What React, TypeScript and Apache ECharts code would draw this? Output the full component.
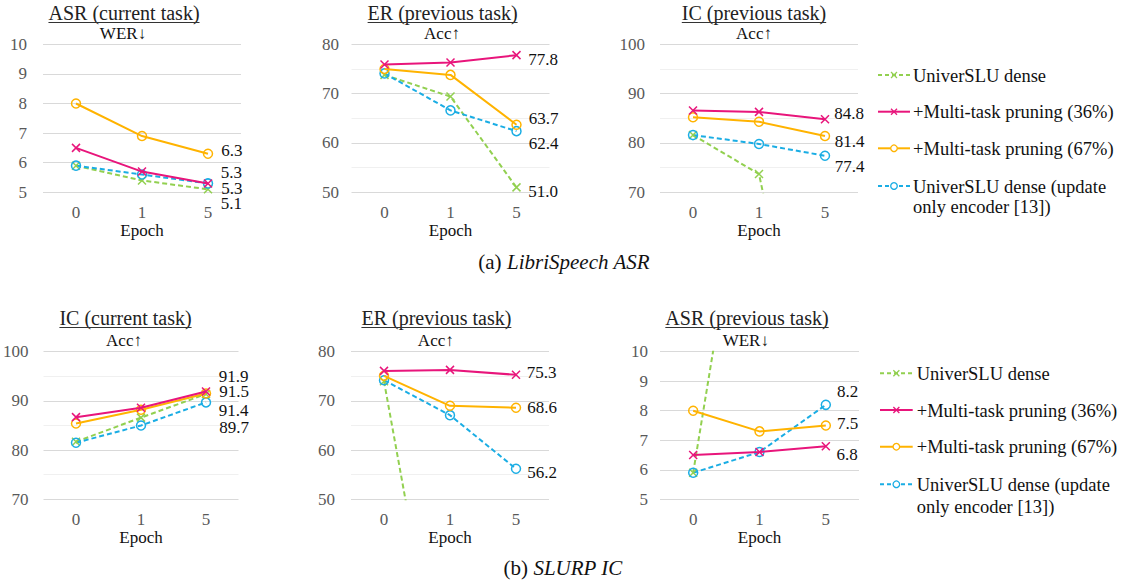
import React, { useEffect, useRef } from 'react';
import * as echarts from 'echarts';

// ---------------- DATA ----------------
const categories = ['0', '1', '5'];
const seriesNames = [
  'UniverSLU dense',
  '+Multi-task pruning (36%)',
  '+Multi-task pruning (67%)',
  'UniverSLU dense (update only encoder [13])',
];

// (a) LibriSpeech ASR
const aAsrDense = [5.9, 5.4, 5.1];
const aAsrMtp36 = [6.5, 5.7, 5.3];
const aAsrMtp67 = [8.0, 6.9, 6.3];
const aAsrEnc = [5.9, 5.6, 5.3];

const aErDense = [73.8, 69.4, 51.0];
const aErMtp36 = [75.9, 76.3, 77.8];
const aErMtp67 = [75.0, 73.8, 63.7];
const aErEnc = [74.1, 66.6, 62.4];

const aIcDense = [81.6, 73.7, 11.0];
const aIcMtp36 = [86.6, 86.3, 84.8];
const aIcMtp67 = [85.2, 84.3, 81.4];
const aIcEnc = [81.6, 79.8, 77.4];

// (b) SLURP IC
const bIcDense = [81.7, 86.6, 91.4];
const bIcMtp36 = [86.7, 88.6, 91.9];
const bIcMtp67 = [85.4, 88.2, 91.5];
const bIcEnc = [81.5, 85.0, 89.7];

const bErDense = [74.0, 0.0, 0.0];
const bErMtp36 = [76.1, 76.3, 75.3];
const bErMtp67 = [75.1, 69.0, 68.6];
const bErEnc = [74.2, 67.1, 56.2];

const bAsrDense = [5.9, 19.6, 21.0];
const bAsrMtp36 = [6.5, 6.6, 6.8];
const bAsrMtp67 = [8.0, 7.3, 7.5];
const bAsrEnc = [5.9, 6.6, 8.2];

const titles = [
  'ASR (current task)', 'ER (previous task)', 'IC (previous task)',
  'IC (current task)', 'ER (previous task)', 'ASR (previous task)',
];
const metrics = ['WER↓', 'Acc↑', 'Acc↑', 'Acc↑', 'Acc↑', 'WER↓'];
const chartData = [
  [aAsrDense, aAsrMtp36, aAsrMtp67, aAsrEnc],
  [aErDense, aErMtp36, aErMtp67, aErEnc],
  [aIcDense, aIcMtp36, aIcMtp67, aIcEnc],
  [bIcDense, bIcMtp36, bIcMtp67, bIcEnc],
  [bErDense, bErMtp36, bErMtp67, bErEnc],
  [bAsrDense, bAsrMtp36, bAsrMtp67, bAsrEnc],
];
const yMins = [5, 50, 70, 70, 50, 5];
const yMaxs = [10, 80, 100, 100, 80, 10];
const yIntervals = [1, 10, 10, 10, 10, 1];
const captions = [
  ['(a) ', 'LibriSpeech ASR'],
  ['(b) ', 'SLURP IC'],
];

// ---------------- LAYOUT / STYLE ----------------
const FONT = "'Liberation Serif', 'Times New Roman', serif";
const GRIDS = [
  { left: 43, top: 44.3, width: 198, height: 148 },
  { left: 351.5, top: 44.3, width: 198, height: 148 },
  { left: 660, top: 44.3, width: 198, height: 148 },
  { left: 38.5, top: 351.7, width: 200, height: 147.6 },
  { left: 351, top: 351.7, width: 198, height: 147.6 },
  { left: 660, top: 351.7, width: 199, height: 147.6 },
];
const Y_LABEL_MARGIN = [16, 12.5, 15, 15, 16, 12];
const TITLE_POS = [
  { cx: 124, base: 20, scx: 123, sbase: 39.3 },
  { cx: 442.6, base: 20, scx: 442, sbase: 39.3 },
  { cx: 754, base: 20, scx: 754, sbase: 39.3 },
  { cx: 125.5, base: 325, scx: 124, sbase: 346.7 },
  { cx: 436.4, base: 325, scx: 435.8, sbase: 346.7 },
  { cx: 747, base: 325, scx: 745.8, sbase: 346.7 },
];
const LABEL_DX = [2, 1, -1.5, 2, 0, 0];
const LABEL_DY = [
  [14.4, -10.6, -3, 5.4],
  [4.3, 4.8, -6.4, 12.2],
  [0, -6, 5.6, 10.9],
  [16, -14.9, -1.8, 25.3],
  [0, -2, 0, 4],
  [0, 8, -2, -13],
];
const STYLES = [
  { color: '#92D050', dashed: true, cross: true },
  { color: '#E8157B', dashed: false, cross: true },
  { color: '#FFB300', dashed: false, cross: false },
  { color: '#1AADE4', dashed: true, cross: false },
];
const CROSS = 'path://M0,0L10,10M10,0L0,10';
const LEGENDS = [
  { x1: 878, x2: 910, tx: 913, ys: [75, 111.7, 148.3, 186], y2: 206.7 },
  { x1: 880, x2: 912.7, tx: 916.7, ys: [373.3, 410, 446.7, 484.3], y2: 506.7 },
];
const CAPTION_POS = [
  { cx: 564, cy: 261.7 },
  { cx: 563, cy: 568 },
];

function textWidth(text: string, font: string): number {
  const ctx = document.createElement('canvas').getContext('2d');
  if (!ctx) return text.length * 8;
  ctx.font = font;
  return ctx.measureText(text).width;
}

function buildOption() {
  const grid = GRIDS.map((g) => ({ ...g, containLabel: false }));
  const xAxis = GRIDS.map((_, i) => ({
    type: 'category',
    gridIndex: i,
    data: categories,
    boundaryGap: true,
    axisLine: { show: false },
    axisTick: { show: false },
    splitLine: { show: false },
    axisLabel: { color: '#595959', fontSize: 17, fontFamily: FONT, margin: 12 },
    name: 'Epoch',
    nameLocation: 'middle',
    nameGap: i < 3 ? 26.5 : 27,
    nameTextStyle: { color: '#111', fontSize: 17, fontFamily: FONT },
  }));
  const yAxis = GRIDS.map((_, i) => ({
    type: 'value',
    gridIndex: i,
    min: yMins[i],
    max: yMaxs[i],
    interval: yIntervals[i],
    axisLine: { show: false },
    axisTick: { show: false },
    axisLabel: { color: '#595959', fontSize: 17, fontFamily: FONT, margin: Y_LABEL_MARGIN[i] },
    splitLine: { show: true, lineStyle: { color: '#d9d9d9', width: 1 } },
    minorTick: { show: false, splitNumber: 2 },
    minorSplitLine: { show: yIntervals[i] === 10, lineStyle: { color: '#f0f0f0', width: 1 } },
  }));

  const series: any[] = [];
  chartData.forEach((sets, ci) => {
    sets.forEach((vals, si) => {
      const st = STYLES[si];
      const last = vals[vals.length - 1];
      const lastVisible = last >= yMins[ci] && last <= yMaxs[ci];
      series.push({
        type: 'line',
        name: seriesNames[si],
        xAxisIndex: ci,
        yAxisIndex: ci,
        clip: true,
        z: 2 + (si === 1 ? 2 : si === 2 ? 1 : 0),
        data: vals.map((v, i) =>
          i === vals.length - 1 && lastVisible
            ? {
                value: v,
                label: {
                  show: true,
                  position: 'right',
                  distance: 6,
                  offset: [LABEL_DX[ci], LABEL_DY[ci][si]],
                  formatter: (p: any) => Number(p.value).toFixed(1),
                  color: '#111',
                  fontSize: 17,
                  fontFamily: FONT,
                },
              }
            : v
        ),
        symbol: st.cross ? CROSS : 'circle',
        symbolSize: st.cross ? 8 : 9,
        showSymbol: true,
        lineStyle: { color: st.color, width: 2, type: st.dashed ? [5, 3] : 'solid' },
        itemStyle: {
          color: st.cross ? st.color : 'rgba(255,255,255,0)',
          borderColor: st.color,
          borderWidth: 1.5,
        },
        emphasis: { disabled: true },
      });
    });
  });

  const graphic: any[] = [];
  // titles + metric subtitles
  titles.forEach((t, i) => {
    const p = TITLE_POS[i];
    const tf = `20px ${FONT}`;
    const w = textWidth(t, tf);
    graphic.push({
      type: 'text',
      x: p.cx,
      y: p.base - 6.8,
      style: {
        text: t, font: tf, fill: '#222',
        align: 'center', textAlign: 'center', verticalAlign: 'middle', textVerticalAlign: 'middle',
      },
    });
    graphic.push({
      type: 'line',
      shape: { x1: p.cx - w / 2, y1: p.base + 2.5, x2: p.cx + w / 2, y2: p.base + 2.5 },
      style: { stroke: '#333', lineWidth: 1 },
    });
    graphic.push({
      type: 'text',
      x: p.scx,
      y: p.sbase - 5.8,
      style: {
        text: metrics[i], font: `17px ${FONT}`, fill: '#111',
        align: 'center', textAlign: 'center', verticalAlign: 'middle', textVerticalAlign: 'middle',
      },
    });
  });

  // legends
  LEGENDS.forEach((L) => {
    seriesNames.forEach((name, si) => {
      const st = STYLES[si];
      const y = L.ys[si];
      graphic.push({
        type: 'line',
        shape: { x1: L.x1, y1: y, x2: L.x2, y2: y },
        style: { stroke: st.color, lineWidth: 2, lineDash: st.dashed ? [4, 3] : null },
      });
      const mx = (L.x1 + L.x2) / 2;
      if (st.cross) {
        graphic.push({ type: 'line', shape: { x1: mx - 3, y1: y - 3, x2: mx + 3, y2: y + 3 }, style: { stroke: st.color, lineWidth: 1.3 } });
        graphic.push({ type: 'line', shape: { x1: mx - 3, y1: y + 3, x2: mx + 3, y2: y - 3 }, style: { stroke: st.color, lineWidth: 1.3 } });
      } else {
        graphic.push({ type: 'circle', shape: { cx: mx, cy: y, r: 3.3 }, style: { fill: '#fff', stroke: st.color, lineWidth: 1.3 } });
      }
      const lines = si === 3 ? ['UniverSLU dense (update', 'only encoder [13])'] : [name];
      lines.forEach((ln, li) => {
        graphic.push({
          type: 'text',
          x: L.tx,
          y: (li === 0 ? y : L.y2) + 0.5,
          style: {
            text: ln, font: `18.5px ${FONT}`, fill: '#111',
            align: 'left', textAlign: 'left', verticalAlign: 'middle', textVerticalAlign: 'middle',
          },
        });
      });
    });
  });

  // captions
  captions.forEach((c, i) => {
    const p = CAPTION_POS[i];
    graphic.push({
      type: 'text',
      x: p.cx,
      y: p.cy,
      style: {
        text: `{n|${c[0]}}{i|${c[1]}}`,
        rich: {
          n: { fontSize: 21, fontFamily: FONT, fill: '#111', color: '#111' },
          i: { fontSize: 21, fontFamily: FONT, fontStyle: 'italic', fill: '#111', color: '#111' },
        },
        font: `21px ${FONT}`,
        fill: '#111',
        align: 'center', textAlign: 'center', verticalAlign: 'middle', textVerticalAlign: 'middle',
      },
    });
  });

  return {
    animation: false,
    backgroundColor: '#ffffff',
    grid,
    xAxis,
    yAxis,
    series,
    graphic,
  };
}

export default function App() {
  const ref = useRef<HTMLDivElement>(null);
  useEffect(() => {
    if (!ref.current) return;
    const chart = echarts.init(ref.current, null, { renderer: 'svg' });
    chart.setOption(buildOption() as any);
    return () => chart.dispose();
  }, []);
  return (
    <div
      ref={ref}
      style={{ position: 'fixed', left: 0, top: 0, width: 1123, height: 581, background: '#fff' }}
    />
  );
}
